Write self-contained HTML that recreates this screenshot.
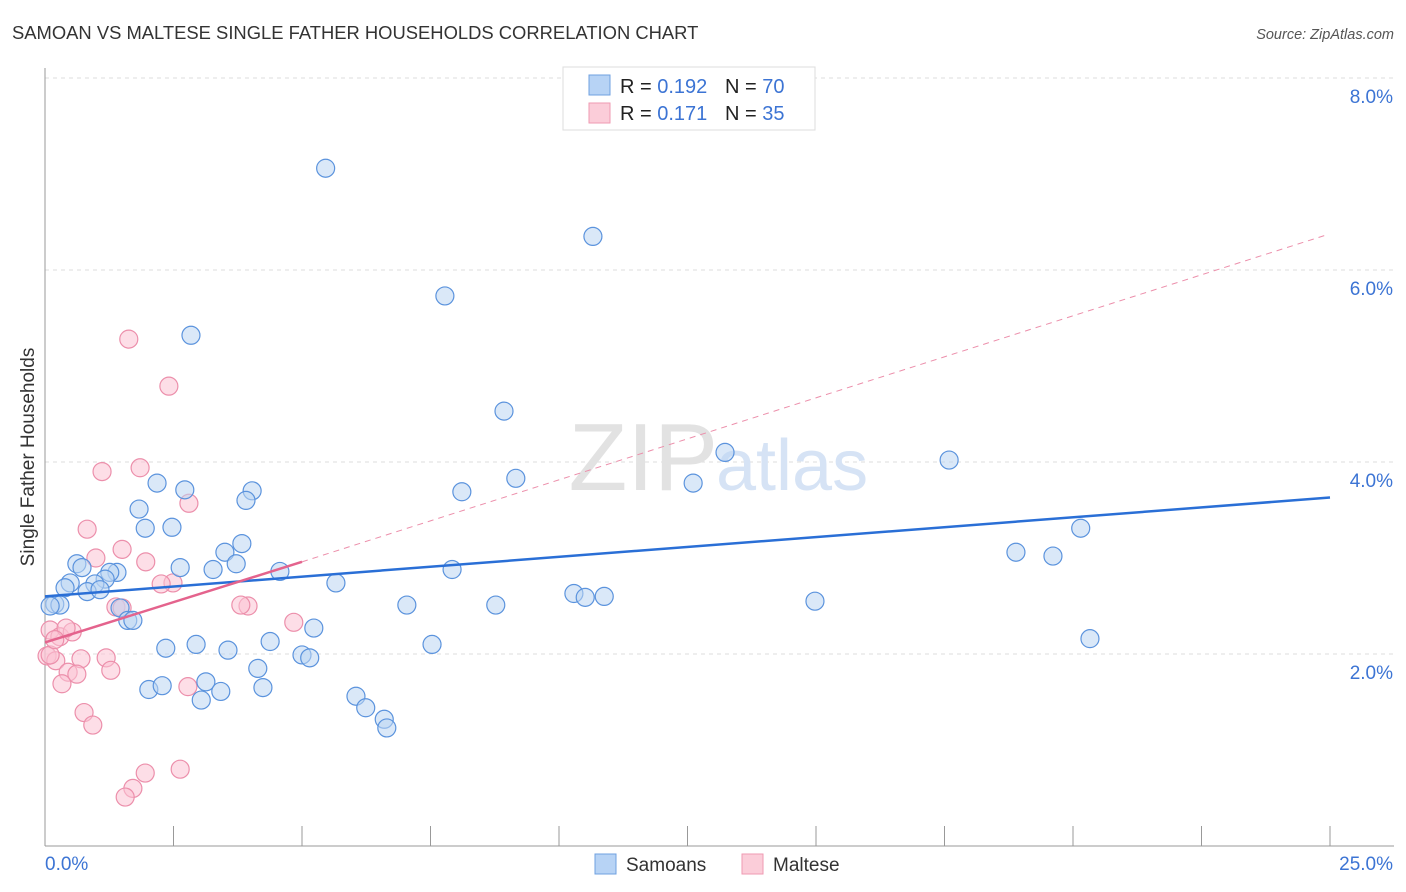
<!DOCTYPE html>
<html><head><meta charset="utf-8">
<style>
html,body{margin:0;padding:0;background:#fff;width:1406px;height:892px;overflow:hidden;font-family:"Liberation Sans",sans-serif;}
svg text{font-family:"Liberation Sans",sans-serif;}
</style></head>
<body>
<svg id="chart" width="1406" height="892" xmlns="http://www.w3.org/2000/svg">
<text x="12" y="39" font-size="18.4" fill="#333">SAMOAN VS MALTESE SINGLE FATHER HOUSEHOLDS CORRELATION CHART</text>
<text x="1394" y="39" font-size="14.5" fill="#555" font-style="italic" text-anchor="end">Source: ZipAtlas.com</text>
<text x="34" y="457" font-size="19" fill="#333" text-anchor="middle" transform="rotate(-90 34 457)">Single Father Households</text>
<g id="grid"></g>
<text x="718" y="490" font-size="96" fill="#e2e2e2" text-anchor="end" font-family="Liberation Serif">ZIP</text>
<text x="716" y="490" font-size="72" fill="#d6e3f5">atlas</text>
<g id="marks"></g>
<g>
<rect x="563" y="67" width="252" height="63" fill="#fff" stroke="#ddd"/>
<rect x="589" y="75" width="21" height="20" fill="#b7d3f5" stroke="#6fa0e0"/>
<rect x="589" y="103" width="21" height="20" fill="#fbcdd9" stroke="#ef9ab2"/>
<text x="620" y="93" font-size="20" fill="#222">R = <tspan fill="#3c74d4">0.192</tspan></text>
<text x="725" y="93" font-size="20" fill="#222">N = <tspan fill="#3c74d4">70</tspan></text>
<text x="620" y="120" font-size="20" fill="#222">R =  <tspan fill="#3c74d4">0.171</tspan></text>
<text x="725" y="120" font-size="20" fill="#222">N =  <tspan fill="#3c74d4">35</tspan></text>
</g>
<g>
<rect x="595" y="854" width="21" height="20" fill="#b7d3f5" stroke="#6fa0e0"/>
<text x="626" y="871" font-size="19" fill="#333">Samoans</text>
<rect x="742" y="854" width="21" height="20" fill="#fbcdd9" stroke="#ef9ab2"/>
<text x="773" y="871" font-size="19" fill="#333">Maltese</text>
</g>
</svg>
<script>
const yTicks=[2,4,6,8];
const xTickLabels=["0.0%","25.0%"];
const samoanX=[5.46,10.66,7.78,2.84,8.93,13.23,17.59,9.16,12.61,8.11,2.18,2.72,4.03,3.91,1.83,1.95,2.47,3.83,3.50,3.72,3.27,2.63,4.57,7.92,20.15,18.89,19.61,0.62,0.72,1.40,1.26,1.17,0.49,0.97,0.39,0.82,1.07,5.66,10.29,10.51,10.88,14.98,7.04,8.77,0.19,0.29,0.10,1.46,1.61,1.71,4.38,5.23,2.94,2.35,3.56,7.53,20.33,5.00,5.15,4.14,3.13,4.24,2.02,2.28,3.42,3.04,6.05,6.24,6.60,6.65];
const samoanY=[7.06,6.35,5.73,5.32,4.53,4.10,4.02,3.83,3.78,3.69,3.78,3.71,3.70,3.60,3.51,3.31,3.32,3.15,3.06,2.94,2.88,2.90,2.86,2.88,3.31,3.06,3.02,2.94,2.90,2.85,2.85,2.78,2.74,2.73,2.69,2.65,2.67,2.74,2.63,2.59,2.60,2.55,2.51,2.51,2.52,2.51,2.50,2.48,2.35,2.35,2.13,2.27,2.10,2.06,2.04,2.10,2.16,1.99,1.96,1.85,1.71,1.65,1.63,1.67,1.61,1.52,1.56,1.44,1.32,1.23];
const malteseX=[1.63,2.41,1.11,1.85,2.80,0.82,0.99,1.50,1.96,2.49,2.26,3.95,1.38,1.50,4.84,0.10,0.29,0.53,0.41,0.04,0.21,0.70,1.19,1.28,0.45,0.62,0.33,2.78,0.76,0.93,1.95,2.63,1.71,1.56,0.10,0.19,3.81];
const malteseY=[5.28,4.79,3.90,3.94,3.57,3.30,3.00,3.09,2.96,2.74,2.73,2.50,2.49,2.48,2.33,2.25,2.18,2.23,2.27,1.98,1.93,1.95,1.96,1.83,1.81,1.79,1.69,1.66,1.39,1.26,0.76,0.80,0.60,0.51,1.99,2.15,2.51];
const blueTrend=[[0,2.6],[25,3.63]];
const pinkTrend=[[0,2.12],[5,2.96]];
const pinkDash=[[5,2.96],[24.9,6.36]];
const X0=45,X1=1330,Y0=846,PXPER=96;
const sx=v=>X0+v/25*(X1-X0);
const sy=v=>Y0-v*PXPER;
const NS="http://www.w3.org/2000/svg";
const grid=document.getElementById('grid'),marks=document.getElementById('marks');
function mk(tag,attrs,parent){const e=document.createElementNS(NS,tag);for(const k in attrs)e.setAttribute(k,attrs[k]);parent.appendChild(e);return e;}
yTicks.forEach(t=>{
 const l=mk('line',{x1:X0,x2:1394,y1:sy(t),y2:sy(t),stroke:'#ddd','stroke-dasharray':'4,4'},grid);
 
 
 const tx=mk('text',{x:1393,y:sy(t)+25,'font-size':19,fill:'#3c74d4','text-anchor':'end'},grid);
 tx.textContent=t.toFixed(1)+'%';
 
 
});
const ax=mk('line',{x1:X0,x2:X0,y1:68,y2:Y0,stroke:'#999'},grid);


const bx=mk('line',{x1:X0,x2:1394,y1:Y0,y2:Y0,stroke:'#999'},grid);


for(let i=0;i<=10;i++){
 const t=mk('line',{x1:sx(i*2.5),x2:sx(i*2.5),y1:826,y2:Y0,stroke:'#999'},grid);
 
 
}
[[0,'start',45],[1,'end',1393]].forEach(([i,a,x])=>{
 const t=mk('text',{x:x,y:870,'font-size':19,fill:'#3c74d4','text-anchor':a},grid);
 t.textContent=xTickLabels[i];
 
 
});
function pts(xs,ys,fill,stroke,name){
 xs.forEach((v,i)=>{
  const c=mk('circle',{cx:sx(v),cy:sy(ys[i]),r:9,fill:fill,'fill-opacity':0.55,stroke:stroke,'stroke-width':1.2},marks);
  
  
 });
}
pts(malteseX,malteseY,'#fbc3d3','#ec8fab','maltese-point');
pts(samoanX,samoanY,'#bcd5f3','#5b93dd','samoan-point');
function line(p,stroke,w,dash,name){
 const a={x1:sx(p[0][0]),y1:sy(p[0][1]),x2:sx(p[1][0]),y2:sy(p[1][1]),stroke:stroke,'stroke-width':w};
 if(dash)a['stroke-dasharray']=dash;
 const l=mk('line',a,marks);
 
 
}
line(pinkDash,'#ec8fab',1,'6,5','maltese-trend-extension');
line(blueTrend,'#2a6fd6',2.5,null,'samoan-trend-line');
line(pinkTrend,'#e4638d',2.5,null,'maltese-trend-line');
</script>
</body></html>
